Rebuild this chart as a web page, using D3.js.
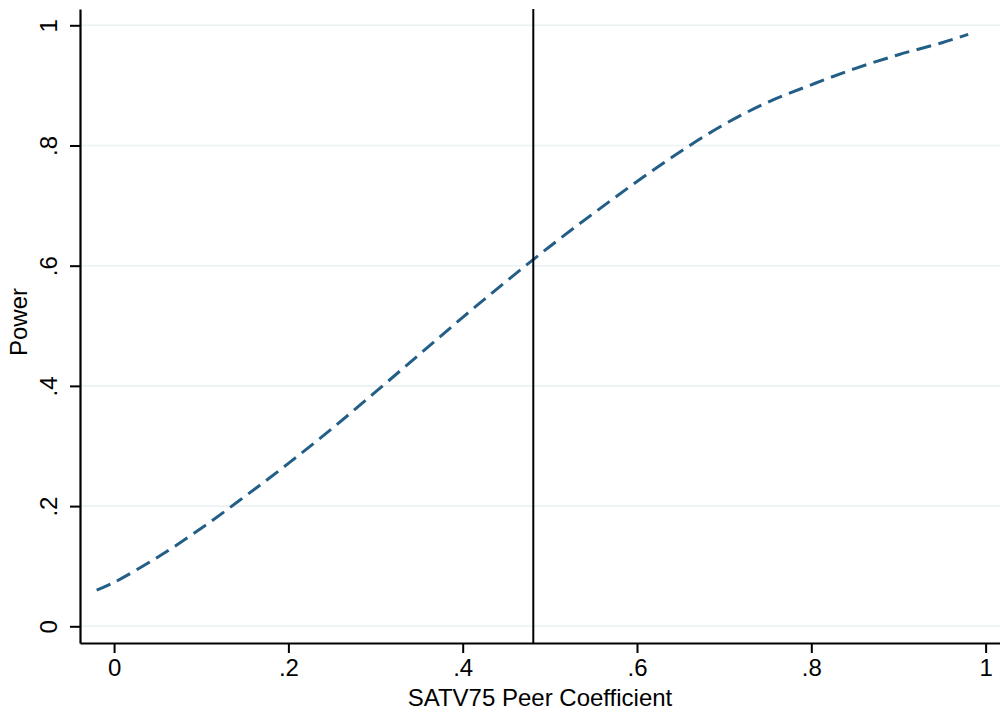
<!DOCTYPE html>
<html>
<head>
<meta charset="utf-8">
<script src="https://cdn.jsdelivr.net/npm/d3@7"></script>
<style>
  html, body { margin: 0; padding: 0; background: #ffffff; }
  svg { display: block; }
  text { font-family: "Liberation Sans", Arial, Helvetica, sans-serif; fill: #000; }
</style>
</head>
<body>
<svg id="chart" width="1000" height="717"></svg>
<script>
// ---- data ----
const coefficient = [-0.02, 0.00, 0.05, 0.10, 0.15, 0.20, 0.25, 0.30, 0.35, 0.40, 0.45, 0.50,
                     0.55, 0.60, 0.65, 0.70, 0.75, 0.80, 0.85, 0.90, 0.95, 0.98];
const power       = [0.060, 0.073, 0.115, 0.163, 0.216, 0.271, 0.329, 0.390, 0.452, 0.514, 0.574, 0.632,
                     0.687, 0.740, 0.790, 0.835, 0.872, 0.901, 0.928, 0.951, 0.971, 0.985];
const referenceLine = 0.481;
const xTicks = [0, 0.2, 0.4, 0.6, 0.8, 1];
const yTicks = [0, 0.2, 0.4, 0.6, 0.8, 1];
const xTitle = "SATV75 Peer Coefficient";
const yTitle = "Power";

// ---- layout ----
const W = 1000, H = 717;
const margin = {left: 80, right: 0, top: 9, bottom: 74};
const svg = d3.select("#chart");

const x = d3.scaleLinear().domain([-0.0391, 1.0165]).range([margin.left, W - margin.right]);
const y = d3.scaleLinear().domain([-0.0278, 1.0271]).range([H - margin.bottom, margin.top]);

const fmt = d => d === 0 ? "0" : d === 1 ? "1" : d3.format(".1f")(d).replace(/^0/, "");

// gridlines
svg.append("g").selectAll("line").data(yTicks).join("line")
  .attr("x1", margin.left).attr("x2", W - margin.right)
  .attr("y1", d => y(d)).attr("y2", d => y(d))
  .attr("stroke", "#eaf2f3").attr("stroke-width", 1.6);

// curve
const data = coefficient.map((c, i) => ({c, p: power[i]}));
svg.append("path").datum(data)
  .attr("fill", "none")
  .attr("stroke", "#235e87")
  .attr("stroke-width", 3)
  .attr("stroke-dasharray", "15,7.5")
  .attr("d", d3.line().x(d => x(d.c)).y(d => y(d.p)).curve(d3.curveCatmullRom.alpha(0.5)));

// reference vertical line
svg.append("line")
  .attr("x1", x(referenceLine)).attr("x2", x(referenceLine))
  .attr("y1", margin.top).attr("y2", H - margin.bottom)
  .attr("stroke", "#000").attr("stroke-width", 2);

// x axis
const xAxis = d3.axisBottom(x).tickValues(xTicks).tickFormat(fmt).tickSize(10).tickSizeOuter(0).tickPadding(6);
const gx = svg.append("g").attr("transform", `translate(0,${H - margin.bottom})`).call(xAxis);
gx.select(".domain").attr("stroke", "#000").attr("stroke-width", 2.2);
gx.selectAll(".tick line").attr("stroke", "#000").attr("stroke-width", 2);
gx.selectAll(".tick text").attr("font-size", 24).attr("fill", "#000")
  .attr("font-family", "'Liberation Sans', Arial, sans-serif");

// y axis
const yAxis = d3.axisLeft(y).tickValues(yTicks).tickFormat(fmt).tickSize(10).tickSizeOuter(0).tickPadding(6);
const gy = svg.append("g").attr("transform", `translate(${margin.left},0)`).call(yAxis);
gy.select(".domain").attr("stroke", "#000").attr("stroke-width", 2.2);
gy.selectAll(".tick line").attr("stroke", "#000").attr("stroke-width", 2);
gy.selectAll(".tick text")
  .attr("font-size", 24).attr("fill", "#000")
  .attr("font-family", "'Liberation Sans', Arial, sans-serif")
  .attr("x", null).attr("dy", null)
  .attr("text-anchor", "middle")
  .attr("transform", "translate(-23,0) rotate(-90)");

// axis titles
svg.append("text")
  .attr("x", (margin.left + W - margin.right) / 2)
  .attr("y", 706)
  .attr("text-anchor", "middle")
  .attr("font-size", 24)
  .text(xTitle);

svg.append("text")
  .attr("transform", `translate(27,${(margin.top + H - margin.bottom) / 2 - 4}) rotate(-90)`)
  .attr("text-anchor", "middle")
  .attr("font-size", 24)
  .text(yTitle);
</script>
</body>
</html>
